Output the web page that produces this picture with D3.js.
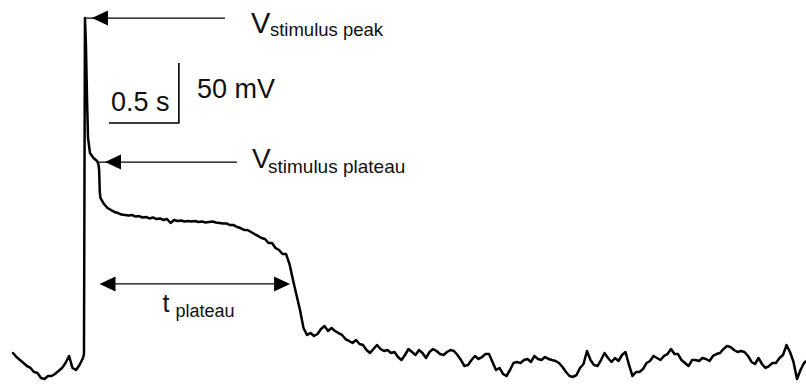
<!DOCTYPE html>
<html>
<head>
<meta charset="utf-8">
<script src="https://cdn.jsdelivr.net/npm/d3@7/dist/d3.min.js"></script>
<style>
  html, body { margin: 0; padding: 0; background: #fff; }
  svg { display: block; }
  text { font-family: "Liberation Sans", Arial, Helvetica, sans-serif; fill: #111; }
</style>
</head>
<body>
<svg id="chart" width="806" height="385"></svg>
<script>
// Membrane potential recording: time (s) and potential (mV, relative to resting level)
const timeS = [
  0, 0.025, 0.05, 0.075, 0.1, 0.125, 0.15, 0.175, 0.2, 0.225, 0.25, 0.275, 0.3, 0.325, 0.35, 0.375,
  0.4, 0.425, 0.45, 0.475, 0.5, 0.507, 0.514, 0.521, 0.529, 0.536, 0.55, 0.575, 0.6, 0.61, 0.615, 0.62,
  0.625, 0.65, 0.675, 0.7, 0.725, 0.75, 0.775, 0.8, 0.825, 0.85, 0.875, 0.9, 0.925, 0.95, 0.975, 1.0,
  1.025, 1.05, 1.075, 1.1, 1.125, 1.15, 1.175, 1.2, 1.225, 1.25, 1.275, 1.3, 1.325, 1.35, 1.375, 1.4,
  1.425, 1.45, 1.475, 1.5, 1.525, 1.55, 1.575, 1.6, 1.625, 1.65, 1.675, 1.7, 1.725, 1.75, 1.775, 1.8,
  1.825, 1.85, 1.875, 1.9, 1.925, 1.95, 1.975, 2.0, 2.025, 2.05, 2.075, 2.1, 2.125, 2.15, 2.175, 2.2,
  2.225, 2.25, 2.275, 2.3, 2.325, 2.35, 2.375, 2.4, 2.425, 2.45, 2.475, 2.5, 2.525, 2.55, 2.575, 2.6,
  2.625, 2.65, 2.675, 2.7, 2.725, 2.75, 2.775, 2.8, 2.825, 2.85, 2.875, 2.9, 2.925, 2.95, 2.975, 3.0,
  3.025, 3.05, 3.075, 3.1, 3.125, 3.15, 3.175, 3.2, 3.225, 3.25, 3.275, 3.3, 3.325, 3.35, 3.375, 3.4,
  3.425, 3.45, 3.475, 3.5, 3.525, 3.55, 3.575, 3.6, 3.625, 3.65, 3.675, 3.7, 3.725, 3.75, 3.775, 3.8,
  3.825, 3.85, 3.875, 3.9, 3.925, 3.95, 3.975, 4.0, 4.025, 4.05, 4.075, 4.1, 4.125, 4.15, 4.175, 4.2,
  4.225, 4.25, 4.275, 4.3, 4.325, 4.35, 4.375, 4.4, 4.425, 4.45, 4.475, 4.5, 4.525, 4.55, 4.575, 4.6,
  4.625, 4.65, 4.675, 4.7, 4.725, 4.75, 4.775, 4.8, 4.825, 4.85, 4.875, 4.9, 4.925, 4.95, 4.975, 5.0,
  5.025, 5.05, 5.075, 5.1, 5.125, 5.15, 5.175, 5.2, 5.225, 5.25, 5.275, 5.3, 5.325, 5.35, 5.375, 5.4,
  5.425, 5.45, 5.475, 5.5, 5.525, 5.55, 5.575, 5.6, 5.625, 5.65, 5.675
];
const potentialMV = [
  1.7, -1.7, -4.2, -6.7, -9.2, -10.8, -14.2, -15, -19.2, -20, -17.5, -17.5, -15.8, -13.3, -10.8, -6.7,
  -0.8, -10.8, -12.5, -8.3, -2.5, 0.8, 280.8, 258.3, 212.5, 180.8, 168.3, 164.2, 161.7, 159.2, 154.2, 135.8,
  130.8, 125.8, 122.5, 120.8, 119.2, 118.3, 117.1, 116.7, 116.2, 116.7, 115.4, 115.8, 114.6, 115, 113.8, 114.6,
  113.3, 113.8, 112.5, 113.3, 110, 112.5, 111.7, 112.1, 111.2, 111.7, 111.2, 111.7, 110.8, 111.2, 110.4, 110.8,
  111.2, 110.4, 110, 109.6, 109.6, 108.3, 108.3, 106.7, 105.8, 104.2, 104.2, 102.5, 100.8, 99.2, 97.5, 96.7,
  93.3, 93.3, 89.2, 87.5, 84.2, 84.2, 75.8, 62.5, 50, 37.5, 22.5, 16.7, 18.3, 15.8, 17.5, 21.7,
  24.2, 20, 22.5, 20, 18.3, 16.7, 13.3, 11.7, 10, 12.5, 9.2, 8.3, 4.2, 1.7, 5, 8.3,
  5, 3.3, 4.2, 1.7, 2.5, -1.7, -4.2, 0, 5, 2.5, 0, 4.2, 1.7, -2.5, 2.5, 5,
  3.3, 0.8, 0, 2.5, 4.2, 3.3, 0, -4.2, -9.2, -8.3, -4.2, -0.8, -3.3, -1.7, 0.8, 0.8,
  -5.8, -12.5, -10.8, -15.8, -17.5, -12.5, -6.7, -5.8, -6.7, -4.2, -3.3, -5.8, -0.8, -3.3, -4.2, -1.7,
  -3.3, -4.2, -5, -6.7, -10, -14.2, -17.5, -18.3, -16.7, -10.8, -7.5, 3.3, -4.2, -8.3, -9.2, -4.2,
  1.7, -2.5, -5.8, -2.5, -5, 0, 2.5, -8.3, -17.5, -14.2, -14.2, -11.7, -6.7, -5, -0.8, -2.5,
  -4.2, -0.8, 0.8, 5, 0.8, 0.8, -4.2, -6.7, -9.2, -4.2, -4.2, -5, -2.5, -3.3, -5, -0.8,
  0.8, 1.7, 5, 7.5, 6.7, 4.2, 2.5, 3.3, 2.5, -0.8, -5.8, -7.5, -2.5, -7.5, -10.8, -9.2,
  -6.7, -6.7, -2.5, 0, 8.3, 2.5, -5.8, -20, -12.5, -6.7, -4.2
];

// Scale bar: 0.5 s horizontal, 50 mV vertical
const scaleBarTime = [0.685, 1.185];
const scaleBarMV = [193.3, 243.3];
const scaleBarLabels = ["0.5 s", "50 mV"];

// Annotated quantities
const peakArrow = { from: 1.514, to: 0.564, mv: 280.8 };
const plateauArrow = { from: 1.6, to: 0.657, mv: 160.8 };
const durationArrow = { from: 0.618, to: 1.979, mv: 59.2 };
const annotationMain = ["V", "V", "t"];
const annotationSub = ["stimulus peak", "stimulus plateau", "plateau"];

const data = timeS.map((t, i) => ({ t, v: potentialMV[i] }));

const svg = d3.select("#chart");
const x = d3.scaleLinear().domain([0, 5.675]).range([13, 807.5]);
const y = d3.scaleLinear().domain([0, 50]).range([355, 295]);

// Trace
svg.append("path")
  .datum(data)
  .attr("fill", "none")
  .attr("stroke", "#000")
  .attr("stroke-width", 2.5)
  .attr("stroke-linejoin", "round")
  .attr("stroke-linecap", "round")
  .attr("d", d3.line().x(d => x(d.t)).y(d => y(d.v)));

// Filled arrowhead with its tip at (tx, ty), pointing in direction dir (-1 left, +1 right)
function arrowHead(g, tx, ty, dir) {
  const len = 16, half = 7.5;
  g.append("path")
    .attr("d", `M${tx},${ty} L${tx - dir * len},${ty - half} L${tx - dir * len},${ty + half} Z`)
    .attr("fill", "#000");
}

function singleArrow(a) {
  const g = svg.append("g");
  const yy = y(a.mv);
  g.append("line")
    .attr("x1", x(a.from)).attr("x2", x(a.to) - 8)
    .attr("y1", yy).attr("y2", yy)
    .attr("stroke", "#000").attr("stroke-width", 1.3);
  arrowHead(g, x(a.to), yy, -1);
}

singleArrow(peakArrow);
singleArrow(plateauArrow);

// Duration double arrow
{
  const g = svg.append("g");
  const yy = y(durationArrow.mv);
  g.append("line")
    .attr("x1", x(durationArrow.from) + 8).attr("x2", x(durationArrow.to) - 8)
    .attr("y1", yy).attr("y2", yy)
    .attr("stroke", "#000").attr("stroke-width", 1.3);
  arrowHead(g, x(durationArrow.from), yy, -1);
  arrowHead(g, x(durationArrow.to), yy, 1);
}

// Labels for the annotated quantities
function label(px, py, main, sub, mainSize, subSize, subDx, subDy) {
  svg.append("text").attr("x", px).attr("y", py)
    .attr("font-size", mainSize).text(main);
  svg.append("text").attr("x", px + subDx).attr("y", py + subDy)
    .attr("font-size", subSize).text(sub);
}
label(x(peakArrow.from) + 26, y(peakArrow.mv) + 15, annotationMain[0], annotationSub[0], 29, 18.5, 19, 3);
label(x(plateauArrow.from) + 15, y(plateauArrow.mv) + 6, annotationMain[1], annotationSub[1], 28, 19, 16, 5);
label(x(durationArrow.from) + 63, y(durationArrow.mv) + 28, annotationMain[2], annotationSub[2], 25, 18, 13, 5);

// Scale bar
{
  const g = svg.append("g");
  const x0 = x(scaleBarTime[0]), x1 = x(scaleBarTime[1]);
  const yb = y(scaleBarMV[0]), yt = y(scaleBarMV[1]);
  g.append("path")
    .attr("d", `M${x0},${yb} L${x1},${yb} L${x1},${yt}`)
    .attr("fill", "none").attr("stroke", "#000").attr("stroke-width", 1.6);
  g.append("text").attr("x", x0 + 2).attr("y", yb - 12)
    .attr("font-size", 27).text(scaleBarLabels[0]);
  g.append("text").attr("x", x1 + 18).attr("y", yt + 35)
    .attr("font-size", 27).text(scaleBarLabels[1]);
}
</script>
</body>
</html>
